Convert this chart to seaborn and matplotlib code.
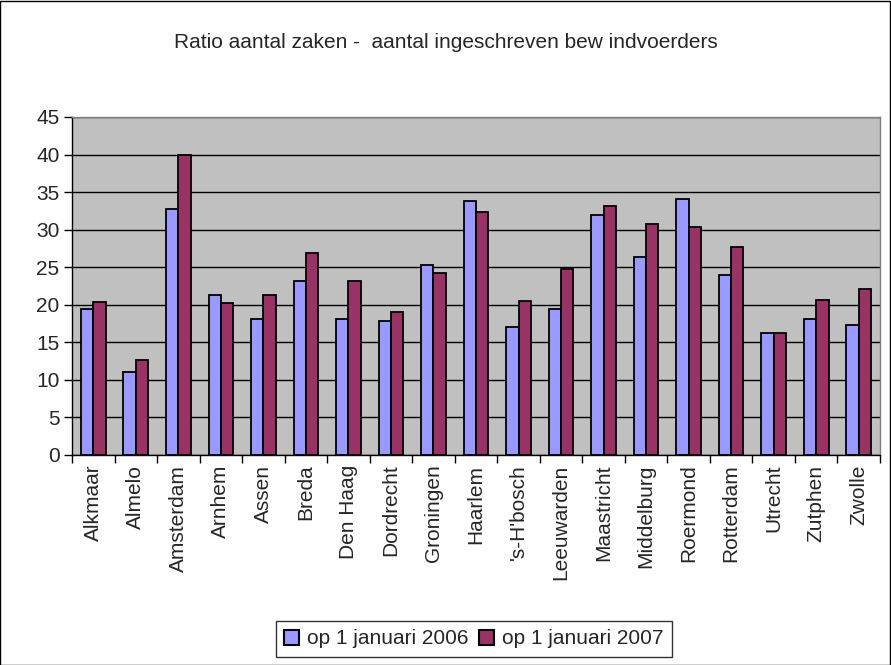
import matplotlib
matplotlib.use("Agg")
import matplotlib.pyplot as plt
from matplotlib.patches import Rectangle
from matplotlib.ticker import FixedLocator
import seaborn as sns
import pandas as pd

cities = ["Alkmaar", "Almelo", "Amsterdam", "Arnhem", "Assen", "Breda", "Den Haag",
          "Dordrecht", "Groningen", "Haarlem", "'s-H'bosch", "Leeuwarden", "Maastricht",
          "Middelburg", "Roermond", "Rotterdam", "Utrecht", "Zutphen", "Zwolle"]
ratio_2006 = [19.4, 11.1, 32.7, 21.3, 18.1, 23.1, 18.1, 17.8, 25.3, 33.8,
              17.0, 19.4, 31.9, 26.3, 34.1, 23.9, 16.2, 18.1, 17.3]
ratio_2007 = [20.4, 12.7, 39.9, 20.2, 21.3, 26.9, 23.1, 19.1, 24.2, 32.4,
              20.5, 24.7, 33.2, 30.8, 30.3, 27.7, 16.2, 20.7, 22.1]
series = ["op 1 januari 2006", "op 1 januari 2007"]
colors = ["#9999FF", "#993366"]

df = pd.DataFrame({
    "stad": cities * 2,
    "ratio": ratio_2006 + ratio_2007,
    "peildatum": [series[0]] * len(cities) + [series[1]] * len(cities),
})

sns.set_theme(style="white")
plt.rcParams["font.family"] = ["Liberation Sans", "DejaVu Sans"]

FS = 15

fig = plt.figure(figsize=(8.91, 6.65), dpi=100)
ax = fig.add_axes([72 / 891, 1 - 455 / 665, (880 - 72) / 891, (455 - 117) / 665])

sns.barplot(data=df, x="stad", y="ratio", hue="peildatum", palette=colors,
            width=0.58, gap=0, edgecolor="black", linewidth=1.3,
            saturation=1, ax=ax, legend=True, zorder=3)

ax.set_facecolor("#C0C0C0")
ax.set_ylim(0, 45)
ax.set_xlim(-0.5, len(cities) - 0.5)
ax.set_yticks(range(0, 46, 5))
ax.yaxis.grid(True, color="black", linewidth=1)
ax.set_axisbelow(True)
ax.set_xlabel("")
ax.set_ylabel("")

for side in ["top", "right"]:
    ax.spines[side].set_color("#808080")
    ax.spines[side].set_linewidth(1)
for side in ["left", "bottom"]:
    ax.spines[side].set_color("black")
    ax.spines[side].set_linewidth(1)

ax.tick_params(axis="y", which="major", direction="out", length=6, width=1,
               color="black", labelsize=FS, left=True, pad=3)
ax.tick_params(axis="x", which="major", length=0, labelsize=FS, pad=7)
ax.set_xticks(range(len(cities)))
ax.set_xticklabels(cities, rotation=90)
ax.xaxis.set_minor_locator(FixedLocator([i - 0.5 for i in range(len(cities) + 1)]))
ax.tick_params(axis="x", which="minor", direction="out", length=6, width=1,
               color="black", bottom=True)

handles, labels = ax.get_legend_handles_labels()
ax.get_legend().remove()
leg = fig.legend(handles, labels, loc="center", bbox_to_anchor=(474 / 891, 1 - 639 / 665),
                 ncol=2, frameon=True, fancybox=False, fontsize=FS,
                 handlelength=0.7, handleheight=0.7, handletextpad=0.4,
                 columnspacing=0.5, borderpad=0.4)
leg.get_frame().set_edgecolor("black")
leg.get_frame().set_linewidth(1)
for h in leg.legend_handles:
    h.set_edgecolor("black")
    h.set_linewidth(1.5)

fig.text(0.5, 1 - 42 / 665, "Ratio aantal zaken -  aantal ingeschreven bew indvoerders",
         ha="center", va="center", fontsize=FS)

fig.patches.append(Rectangle((0.0005, 0.0005), 0.998, 0.998, transform=fig.transFigure,
                             fill=False, edgecolor="black", linewidth=1))

fig.savefig("out.png", dpi=100, facecolor="white")
